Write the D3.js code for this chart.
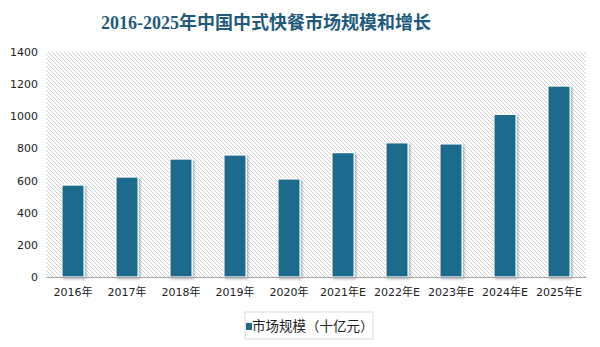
<!DOCTYPE html>
<html><head><meta charset="utf-8">
<script src="https://cdn.jsdelivr.net/npm/d3@7"></script>
<style>body{margin:0;background:#fff;}svg{display:block;}</style>
</head><body>
<svg id="c" width="600" height="347"></svg>
<script>
const categories = ["2016年","2017年","2018年","2019年","2020年","2021年E","2022年E","2023年E","2024年E","2025年E"];
const values = [572, 622, 734, 759, 610, 774, 835, 828, 1012, 1188];
const yTicks = [0,200,400,600,800,1000,1200,1400];
const seriesName = "市场规模（十亿元）";
const titleText = "2016-2025年中国中式快餐市场规模和增长";

const svg = d3.select("#c");
const m = {l:46, r:14, t:52, b:70};
const W = 600, H = 347;
const x = d3.scaleBand().domain(categories).range([m.l, W-m.r]).paddingInner(0.59).paddingOuter(0.295);
const y = d3.scaleLinear().domain([0,1400]).range([H-m.b, m.t]);

const defs = svg.append("defs");
const pat = defs.append("pattern").attr("id","hatch").attr("patternUnits","userSpaceOnUse")
  .attr("width",4).attr("height",4);
pat.append("rect").attr("width",4).attr("height",4).attr("fill","#fff");
pat.append("path").attr("d","M-1,-1 L5,5 M-1,3 L1,5 M3,-1 L5,1").attr("stroke","#cfcfcf").attr("stroke-width",1);
const f = defs.append("filter").attr("id","sh").attr("x","-30%").attr("y","-10%").attr("width","160%").attr("height","120%");
f.append("feDropShadow").attr("dx",1.5).attr("dy",1.5).attr("stdDeviation",1.2).attr("flood-color","#000").attr("flood-opacity",0.3);

svg.append("rect").attr("x",m.l).attr("y",m.t).attr("width",W-m.r-m.l).attr("height",H-m.b-m.t).attr("fill","url(#hatch)");

svg.append("text").attr("x",266).attr("y",29).attr("text-anchor","middle")
  .attr("font-family","'Liberation Serif', 'Noto Sans CJK SC', serif").attr("font-weight","bold")
  .attr("font-size",18).attr("fill","#1d5a7c").text(titleText);

// y axis labels
const ya = svg.append("g").attr("transform",`translate(${m.l},0)`)
  .call(d3.axisLeft(y).tickValues(yTicks).tickFormat(d3.format("d")).tickSize(0).tickPadding(8));
ya.select(".domain").remove();
ya.selectAll("text").attr("font-family","'DejaVu Sans', sans-serif").attr("font-size",11).attr("fill","#222");

// bars
svg.append("g").selectAll("rect").data(values).join("rect")
  .attr("x",(d,i)=>x(categories[i])).attr("width",x.bandwidth())
  .attr("y",d=>y(d)).attr("height",d=>y(0)-y(d))
  .attr("fill","#1c6a8d").attr("stroke","#fff").attr("stroke-width",1.2)
  .attr("filter","url(#sh)");

// x axis
const xa = svg.append("g").attr("transform",`translate(0,${H-m.b})`)
  .call(d3.axisBottom(x).tickSize(0).tickPadding(11));
xa.select(".domain").attr("stroke","#a6a6a6").attr("stroke-width",1.2);
xa.selectAll("text").attr("font-family","'DejaVu Sans','Noto Sans CJK SC', sans-serif").attr("font-size",11).attr("fill","#222");

// legend
const lg = svg.append("g");
lg.append("rect").attr("x",245).attr("y",312).attr("width",128).attr("height",27).attr("fill","#fff").attr("stroke","#dcdcdc");
lg.append("rect").attr("x",246).attr("y",323).attr("width",6).attr("height",7).attr("fill","#1c6a8d");
lg.append("text").attr("x",252).attr("y",331).attr("font-family","'Noto Sans CJK SC', sans-serif").attr("font-size",13.5).attr("fill","#222").text(seriesName);
</script>
</body></html>
